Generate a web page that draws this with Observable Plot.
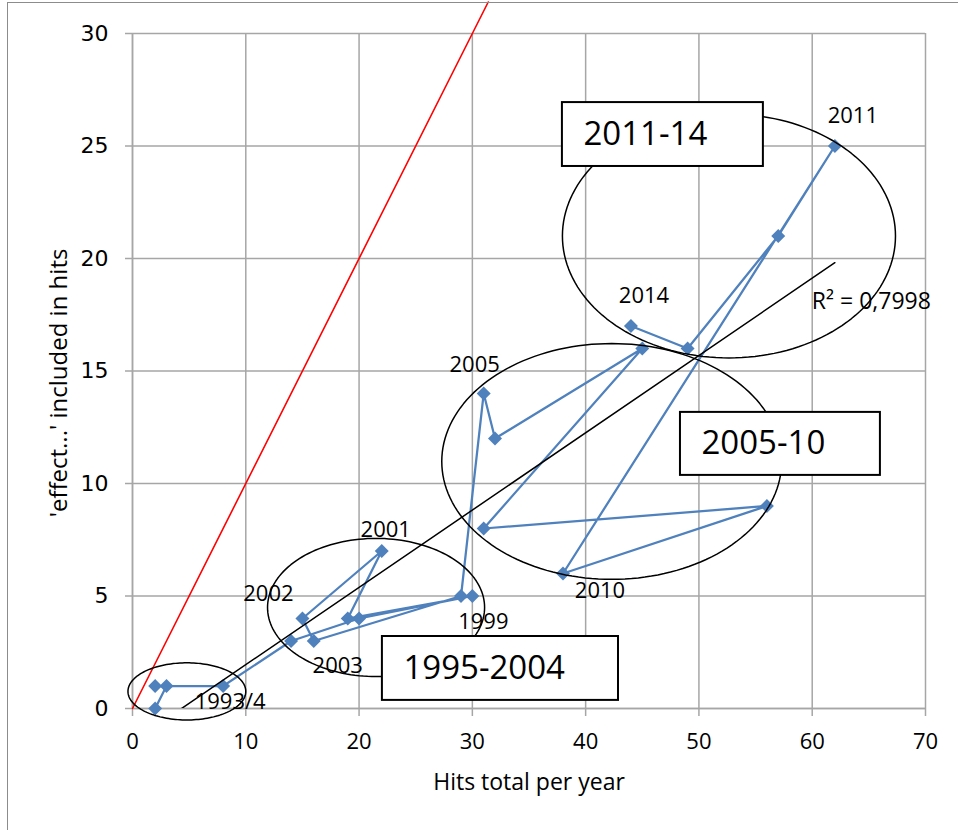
<!DOCTYPE html>
<html>
<head>
<meta charset="utf-8">
<script src="https://cdn.jsdelivr.net/npm/d3@7"></script>
<script src="https://cdn.jsdelivr.net/npm/@observablehq/plot@0.6"></script>
<style>
  html, body { margin: 0; padding: 0; background: #fff; overflow: hidden; }
  #chart { position: absolute; left: 0; top: 0; }
  #frame { position: absolute; left: 7px; top: 2px; width: 1000px; height: 900px;
           border: 1.5px solid #8c8c8c; pointer-events: none; }
</style>
</head>
<body>
<div id="chart"></div>
<div id="frame"></div>
<script>
// ---- data ----
const hitsTotal   = [2, 3, 2, 8, 14, 20, 30, 19, 22, 15, 16, 29, 31, 32, 45, 31, 56, 38, 62, 57, 49, 44];
const effectHits  = [0, 1, 1, 1, 3, 4, 5, 4, 7, 4, 3, 5, 14, 12, 16, 8, 9, 6, 25, 21, 16, 17];
const pointLabels = ["", "", "", "1993/4", "", "", "1999", "", "2001", "2002", "2003", "", "2005", "", "", "", "", "2010", "2011", "", "", "2014"];

const xTicks = [0, 10, 20, 30, 40, 50, 60, 70];
const yTicks = [0, 5, 10, 15, 20, 25, 30];

const xTitle = "Hits total per year";
const yTitle = "'effect...' included in hits";
const r2Text = "R² = 0,7998";

// red reference line y = x
const diagonal = [0, 31.4];

// annotation ovals (data units)
const ovalCenterX = [4.8, 21.5, 42.3, 52.65];
const ovalCenterY = [0.76, 4.49, 10.98, 21.0];
const ovalRadiusX = [5.2, 9.58, 15.0, 14.7];
const ovalRadiusY = [1.27, 3.07, 5.24, 5.42];

// annotation boxes (data units)
const boxText   = ["1995-2004", "2005-10", "2011-14"];
const boxLeft   = [22.06, 48.37, 37.95];
const boxRight  = [42.9, 66.02, 55.69];
const boxBottom = [0.36, 10.36, 24.09];
const boxTop    = [3.2, 13.16, 26.93];

// ---- styling ----
const labelOffsets = {
  "1993/4": [7, 16], "1999": [11, 26], "2001": [4, -21], "2002": [-34, -25],
  "2003": [24, 25], "2005": [-9, -29], "2010": [37, 17], "2011": [18, -30], "2014": [13, -30]
};
const blue = "#4f81bd";
const gridColor = "#a6a6a6";
const font = "Open Sans";

// ---- derived tables ----
const points = hitsTotal.map((x, i) => ({x, y: effectHits[i], label: pointLabels[i]}));
const labelled = points.filter(d => d.label);

const ovals = [];
ovalCenterX.forEach((cx, k) => {
  for (let i = 0; i <= 160; i++) {
    const t = (i / 160) * 2 * Math.PI;
    ovals.push({id: k, x: cx + ovalRadiusX[k] * Math.cos(t), y: ovalCenterY[k] + ovalRadiusY[k] * Math.sin(t)});
  }
});

const boxes = boxText.map((text, i) => ({text, x1: boxLeft[i], x2: boxRight[i], y1: boxBottom[i], y2: boxTop[i]}));

// least squares for the R² label anchor
const mx = d3.mean(hitsTotal), my = d3.mean(effectHits);
const slope = d3.sum(hitsTotal, (x, i) => (x - mx) * (effectHits[i] - my)) / d3.sum(hitsTotal, x => (x - mx) ** 2);
const intercept = my - slope * mx;
const xEnd = d3.max(hitsTotal);
const regEnd = [{x: xEnd, y: intercept + slope * xEnd}];

const chart = Plot.plot({
  width: 958,
  height: 830,
  marginLeft: 132,
  marginRight: 33,
  marginTop: 33,
  marginBottom: 122,
  x: {domain: [0, 70]},
  y: {domain: [0, 30]},
  style: {fontFamily: font, background: "white", color: "black"},
  marks: [
    Plot.gridX(xTicks, {stroke: gridColor, strokeOpacity: 1, strokeWidth: 1.5}),
    Plot.gridY(yTicks, {stroke: gridColor, strokeOpacity: 1, strokeWidth: 1.5}),
    Plot.ruleX([0], {stroke: gridColor, strokeWidth: 1.5}),
    Plot.ruleY([0], {stroke: gridColor, strokeWidth: 1.5}),
    Plot.axisX(xTicks, {tickSize: 8, tickPadding: 17, stroke: gridColor, strokeWidth: 1.5, fill: "black",
      fontSize: 22, fontFamily: font, label: null}),
    Plot.axisY(yTicks, {tickSize: 7, tickPadding: 17, stroke: gridColor, strokeWidth: 1.5, fill: "black",
      fontSize: 22, fontFamily: "DejaVu Sans", label: null}),
    Plot.text([xTitle], {frameAnchor: "bottom", dy: 74, fontSize: 23, fontFamily: font, lineAnchor: "middle"}),
    Plot.text([yTitle], {frameAnchor: "left", rotate: -90, dx: -73, dy: 12, fontSize: 24, fontFamily: font,
      textAnchor: "middle", lineAnchor: "middle"}),
    Plot.line(diagonal, {x: d => d, y: d => d, stroke: "#ff0000", strokeWidth: 1.6}),
    Plot.line(points, {x: "x", y: "y", stroke: blue, strokeWidth: 2.25}),
    Plot.dot(points, {x: "x", y: "y", symbol: "diamond2", r: 6.3, fill: blue, stroke: "none"}),
    Plot.linearRegressionY(points, {x: "x", y: "y", stroke: "black", strokeWidth: 1.5, ci: 0, clip: true}),
    Plot.line(ovals, {x: "x", y: "y", z: "id", stroke: "black", strokeWidth: 1.5}),
    ...labelled.map(d => Plot.text([d], {x: "x", y: "y", text: "label", dx: labelOffsets[d.label][0], dy: labelOffsets[d.label][1],
      fontSize: 22, fontFamily: font, lineAnchor: "middle", fill: "black"})),
    Plot.text(regEnd, {x: "x", y: "y", text: () => r2Text, dx: -23, dy: 39, textAnchor: "start", lineAnchor: "middle",
      fontSize: 23, fontFamily: font, fill: "black"}),
    Plot.rect(boxes, {x1: "x1", x2: "x2", y1: "y1", y2: "y2", fill: "white", stroke: "black", strokeWidth: 2}),
    Plot.text(boxes, {x: "x1", y: d => (d.y1 + d.y2) / 2, text: "text", dx: 21, textAnchor: "start", lineAnchor: "middle",
      fontSize: 33, fontFamily: font, fill: "black"})
  ]
});
document.getElementById("chart").appendChild(chart);
</script>
</body>
</html>
